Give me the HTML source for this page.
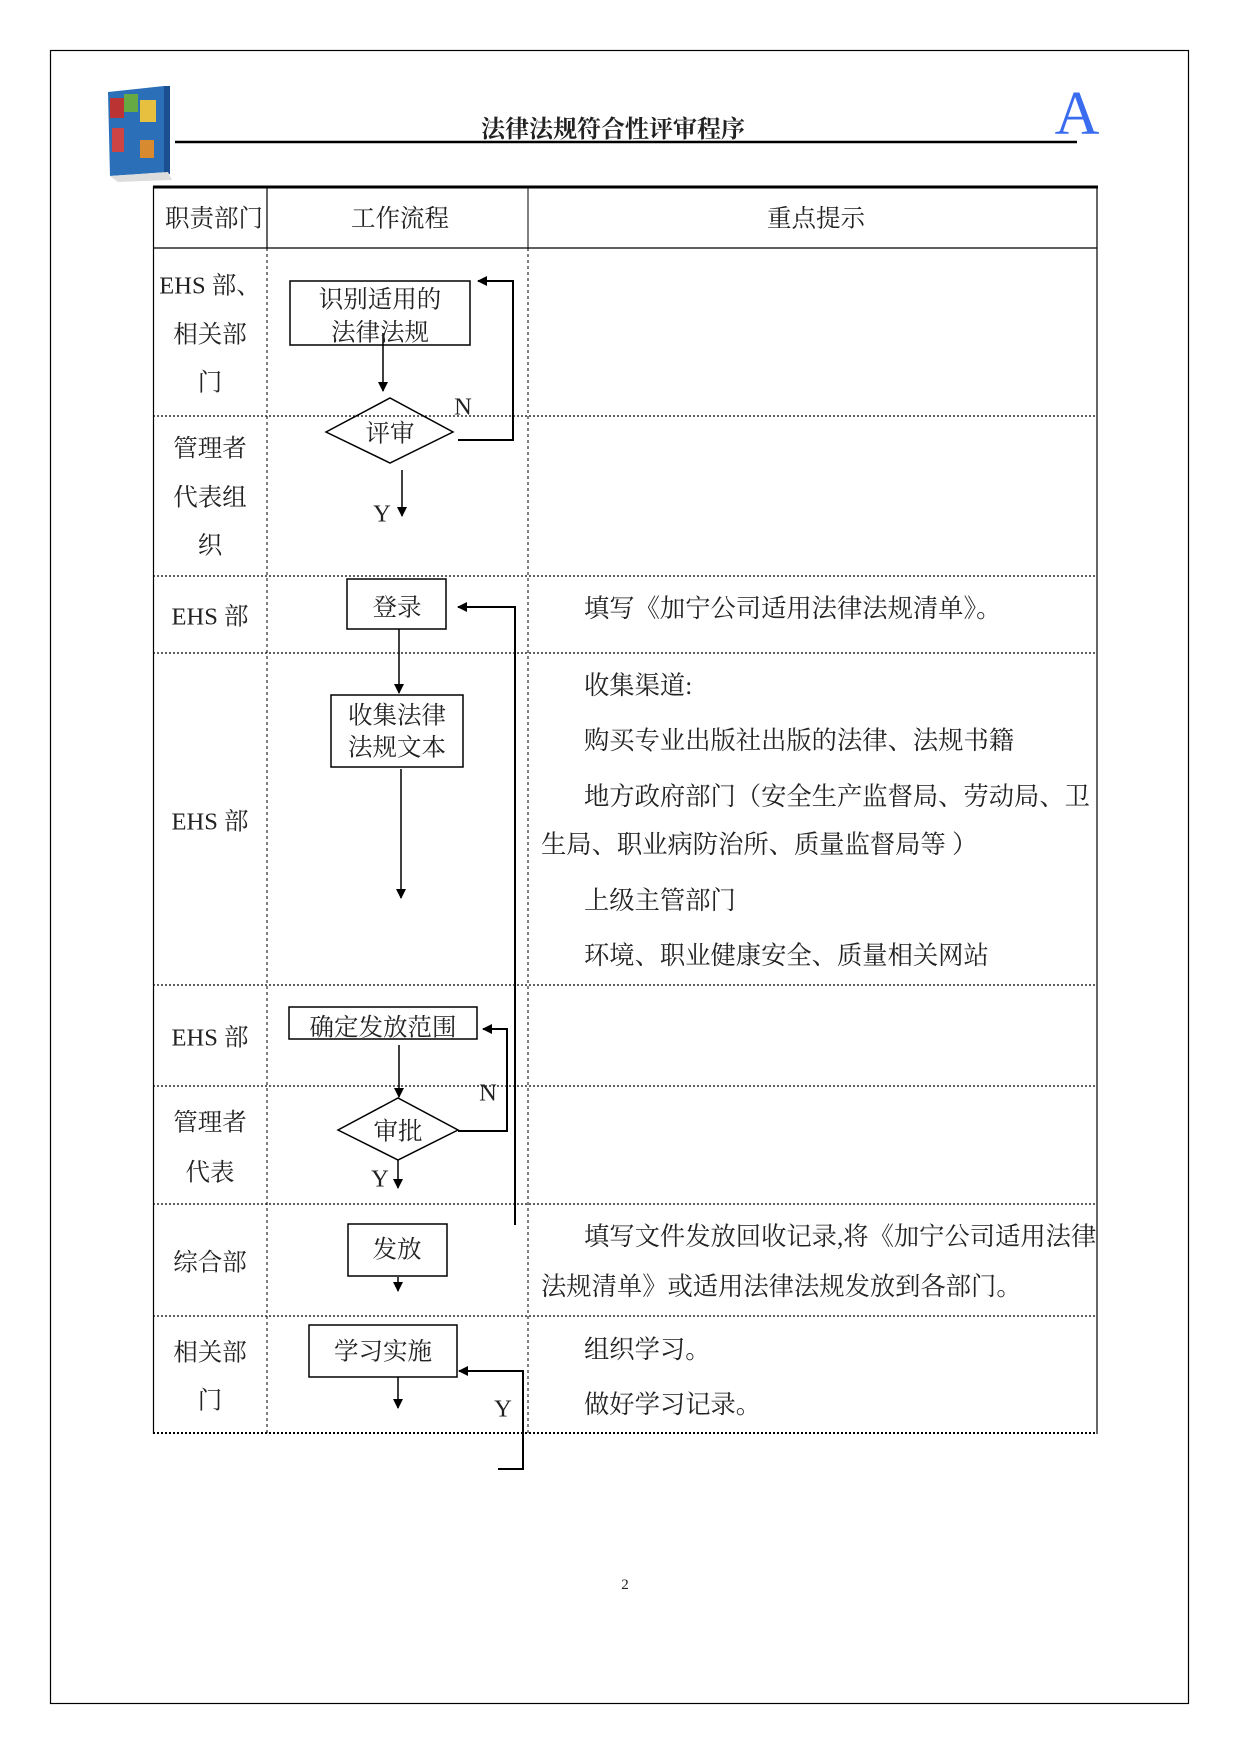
<!DOCTYPE html>
<html><head><meta charset="utf-8"><style>
html,body{margin:0;padding:0;background:#fff;}
svg{display:block;}
text{font-family:"Liberation Serif","Noto Serif CJK SC",serif;fill:#222;}
</style></head><body>
<svg width="1241" height="1754" viewBox="0 0 1241 1754" xmlns="http://www.w3.org/2000/svg">
<defs>
<marker id="ah" markerWidth="10" markerHeight="10" refX="9" refY="5" orient="auto" markerUnits="userSpaceOnUse">
<path d="M0,0 L10,5 L0,10 z" fill="#000"/></marker>
</defs>
<rect x="50.5" y="50.5" width="1138" height="1653" fill="none" stroke="#000" stroke-width="1.2"/>
<g>
<polygon points="108,92 164,86 168,172 110,176" fill="#2a6fb8"/>
<rect x="110" y="98" width="14" height="20" fill="#b33"/>
<rect x="124" y="94" width="14" height="18" fill="#6a4"/>
<rect x="140" y="100" width="16" height="22" fill="#e8c040"/>
<rect x="112" y="128" width="12" height="24" fill="#c44"/>
<rect x="140" y="140" width="14" height="18" fill="#d88a30"/>
<rect x="164" y="86" width="6" height="88" fill="#1a4f90"/>
<polygon points="110,176 168,172 172,180 118,182" fill="#ddd"/>
</g>
<text x="613" y="130" font-size="24" font-weight="bold" text-anchor="middle" dominant-baseline="central">法律法规符合性评审程序</text>
<line x1="175" y1="142" x2="1077" y2="142" stroke="#000" stroke-width="2.5"/>
<text x="1077" y="114" font-size="62" text-anchor="middle" dominant-baseline="central" style="fill:#3a6cf0;font-family:'Liberation Serif',serif">A</text>

<line x1="153" y1="187" x2="1098" y2="187" stroke="#000" stroke-width="3"/>
<line x1="153" y1="248" x2="1097" y2="248" stroke="#000" stroke-width="1.2"/>
<line x1="153.5" y1="186" x2="153.5" y2="1434" stroke="#000" stroke-width="1.2"/>
<line x1="1097" y1="186" x2="1097" y2="1434" stroke="#000" stroke-width="1.2"/>
<line x1="267" y1="186" x2="267" y2="248" stroke="#000" stroke-width="1.2"/>
<line x1="528" y1="186" x2="528" y2="248" stroke="#000" stroke-width="1"/>
<g stroke="#000" stroke-width="1" stroke-dasharray="3,3">
<line x1="267" y1="248" x2="267" y2="1434"/>
<line x1="528" y1="248" x2="528" y2="1434"/>
</g>
<g stroke="#000" stroke-width="1.3" stroke-dasharray="2,2">
<line x1="153" y1="416" x2="1097" y2="416"/>
<line x1="153" y1="576" x2="1097" y2="576"/>
<line x1="153" y1="653" x2="1097" y2="653"/>
<line x1="153" y1="985" x2="1097" y2="985"/>
<line x1="153" y1="1086" x2="1097" y2="1086"/>
<line x1="153" y1="1204" x2="1097" y2="1204"/>
<line x1="153" y1="1316" x2="1097" y2="1316"/>
</g>
<line x1="153" y1="1433" x2="1097" y2="1433" stroke="#000" stroke-width="2" stroke-dasharray="2,2"/>

<g font-size="24.5" text-anchor="middle" dominant-baseline="central">
<text x="214" y="219">职责部门</text>
<text x="400" y="219">工作流程</text>
<text x="816" y="219">重点提示</text>
<text x="210" y="286">EHS 部、</text>
<text x="210" y="335">相关部</text>
<text x="210" y="383">门</text>
<text x="210" y="449">管理者</text>
<text x="210" y="498">代表组</text>
<text x="210" y="546">织</text>
<text x="210" y="617">EHS 部</text>
<text x="210" y="822">EHS 部</text>
<text x="210" y="1038">EHS 部</text>
<text x="210" y="1123">管理者</text>
<text x="210" y="1173">代表</text>
<text x="210" y="1263">综合部</text>
<text x="210" y="1353">相关部</text>
<text x="210" y="1401">门</text>
</g>

<g fill="none" stroke="#000" stroke-width="1.5">
<rect x="290" y="281" width="180" height="64"/>
<polygon points="326,432 390,398 453,432 390,463"/>
<rect x="347" y="579" width="99" height="50"/>
<rect x="331" y="695" width="132" height="72"/>
<rect x="289" y="1007" width="188" height="32"/>
<polygon points="338,1130 398,1098 458,1130 398,1160"/>
<rect x="348" y="1224" width="99" height="52"/>
<rect x="309" y="1325" width="148" height="52"/>
</g>
<g stroke="#000" stroke-width="1.5" fill="none">
<line x1="383" y1="333" x2="383" y2="391" marker-end="url(#ah)"/>
<polyline points="458,440 513,440 513,281 478,281" stroke-width="2" marker-end="url(#ah)"/>
<line x1="402" y1="470" x2="402" y2="516" marker-end="url(#ah)"/>
<polyline points="515,1225 515,607 458,607" stroke-width="2" marker-end="url(#ah)"/>
<line x1="399" y1="629" x2="399" y2="693" marker-end="url(#ah)"/>
<line x1="401" y1="769" x2="401" y2="898" marker-end="url(#ah)"/>
<line x1="399" y1="1045" x2="399" y2="1097" marker-end="url(#ah)"/>
<polyline points="458,1131 507,1131 507,1029 483,1029" stroke-width="2" marker-end="url(#ah)"/>
<line x1="398" y1="1160" x2="398" y2="1188" marker-end="url(#ah)"/>
<line x1="398" y1="1277" x2="398" y2="1291" marker-end="url(#ah)"/>
<line x1="398" y1="1377" x2="398" y2="1408" marker-end="url(#ah)"/>
<polyline points="498,1469 523,1469 523,1371 459,1371" stroke-width="2" marker-end="url(#ah)"/>
</g>
<g font-size="24.5" text-anchor="middle" dominant-baseline="central">
<text x="380" y="300">识别适用的</text>
<text x="380" y="333">法律法规</text>
<text x="390" y="434">评审</text>
<text x="397" y="608">登录</text>
<text x="397" y="716">收集法律</text>
<text x="397" y="748">法规文本</text>
<text x="383" y="1028">确定发放范围</text>
<text x="398" y="1132">审批</text>
<text x="397" y="1250">发放</text>
<text x="383" y="1352">学习实施</text>
<text x="463" y="407">N</text>
<text x="382" y="514">Y</text>
<text x="488" y="1093">N</text>
<text x="380" y="1179">Y</text>
<text x="503" y="1409">Y</text>
</g>

<g font-size="25.3" dominant-baseline="central">
<text x="584" y="609">填写《加宁公司适用法律法规清单》。</text>
<text x="584" y="686">收集渠道:</text>
<text x="584" y="741">购买专业出版社出版的法律、法规书籍</text>
<text x="584" y="797">地方政府部门（安全生产监督局、劳动局、卫</text>
<text x="541" y="845">生局、职业病防治所、质量监督局等 ）</text>
<text x="584" y="901">上级主管部门</text>
<text x="584" y="956">环境、职业健康安全、质量相关网站</text>
<text x="584" y="1237">填写文件发放回收记录,将《加宁公司适用法律</text>
<text x="541" y="1287">法规清单》或适用法律法规发放到各部门。</text>
<text x="584" y="1350">组织学习。</text>
<text x="584" y="1405">做好学习记录。</text>
</g>
<text x="625" y="1585" font-size="15" text-anchor="middle" dominant-baseline="central">2</text>
</svg>
</body></html>
